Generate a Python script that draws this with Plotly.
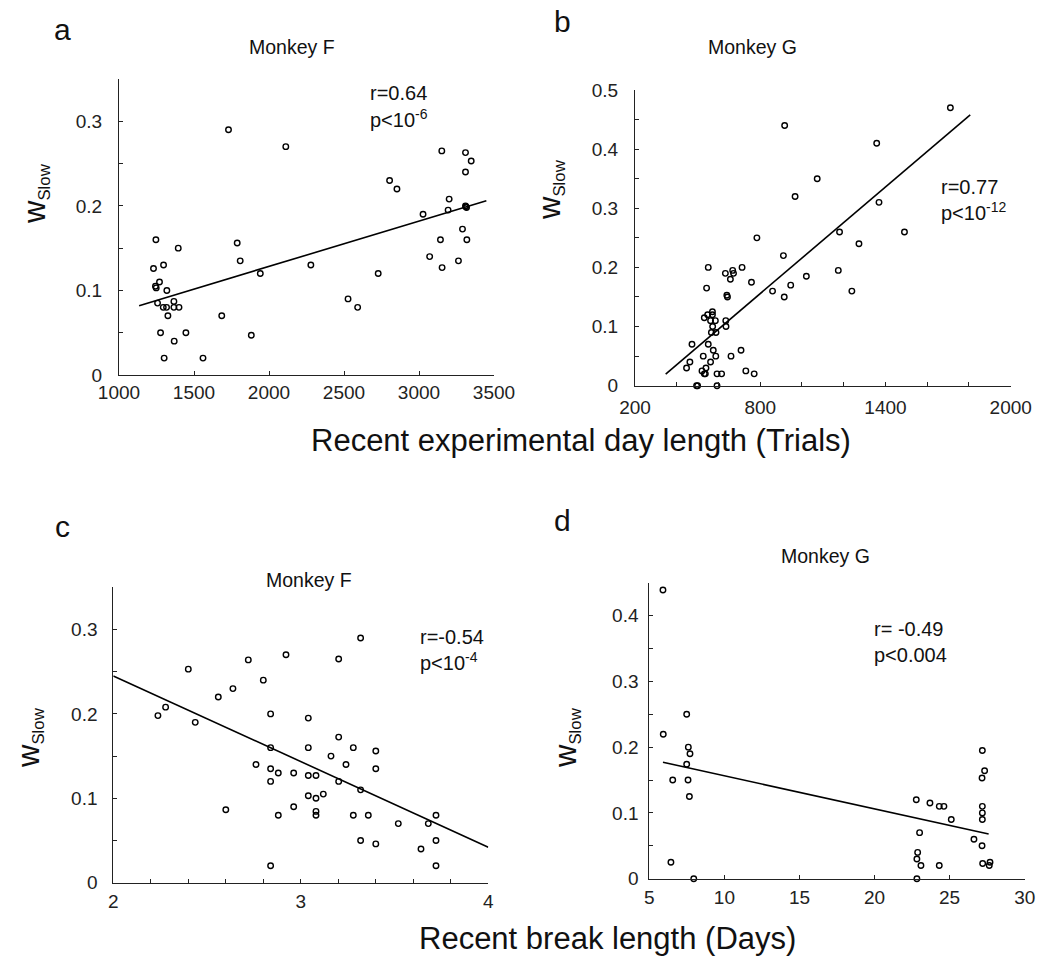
import plotly.graph_objects as go

W, H = 1039, 956
FONT = "Liberation Sans, Arial, Helvetica, sans-serif"

# ---------------- data ----------------
# Panel a: Monkey F, recent experimental day length (trials) vs w_slow
a_x = [1730, 2112, 3152, 3310, 3348, 3310, 2804, 2853, 3201, 3310, 3312, 3317, 3194, 3027,
       3290, 3143, 3319, 3071, 3154, 3263, 2728, 2527, 2591, 2279, 1942, 1788, 1808, 1685,
       1882, 1560, 1246, 1230, 1297, 1395, 1270, 1243, 1248, 1319, 1257, 1366, 1295, 1317,
       1366, 1400, 1326, 1277, 1446, 1368, 1301]
a_y = [0.29, 0.27, 0.265, 0.263, 0.253, 0.24, 0.23, 0.22, 0.208, 0.2, 0.199, 0.198, 0.195, 0.19,
       0.1725, 0.16, 0.16, 0.14, 0.127, 0.135, 0.12, 0.09, 0.08, 0.13, 0.12, 0.156, 0.135, 0.07,
       0.047, 0.02, 0.16, 0.126, 0.13, 0.15, 0.11, 0.105, 0.103, 0.1, 0.085, 0.087, 0.08, 0.08,
       0.08, 0.08, 0.07, 0.05, 0.05, 0.04, 0.02]
a_fit_x = [1134, 3449]
a_fit_y = [0.082, 0.206]

# Panel b: Monkey G, recent experimental day length (trials) vs w_slow
b_x = [1711, 917, 1358, 1073, 967, 1369, 1180, 1491, 784, 1273, 911, 551, 668, 633, 672, 713,
       657, 758, 543, 1174, 1021, 946, 859, 1239, 915, 640, 643, 571, 548, 571, 532, 562, 585,
       635, 572, 636, 566, 588, 473, 551, 575, 708, 527, 587, 660, 463, 562, 447, 540, 521, 532,
       537, 731, 593, 615, 771, 495, 500, 593]
b_y = [0.47, 0.44, 0.41, 0.35, 0.32, 0.31, 0.26, 0.26, 0.25, 0.24, 0.22, 0.2, 0.195, 0.19, 0.19,
       0.2, 0.18, 0.175, 0.165, 0.195, 0.185, 0.17, 0.16, 0.16, 0.15, 0.153, 0.15, 0.125, 0.12,
       0.12, 0.115, 0.11, 0.11, 0.11, 0.1, 0.1, 0.09, 0.09, 0.07, 0.07, 0.06, 0.06, 0.05, 0.05,
       0.05, 0.04, 0.04, 0.03, 0.03, 0.025, 0.02, 0.02, 0.025, 0.02, 0.02, 0.02, 0.0, 0.0, 0.0]
b_fit_x = [347, 1806]
b_fit_y = [0.0197, 0.458]

# Panel c: Monkey F, recent break length (days) vs w_slow
c_x = [3.319, 2.921, 3.202, 2.72, 2.4, 2.8, 2.638, 2.56, 2.279, 2.238, 2.437, 2.839, 3.04, 3.202,
       2.839, 3.04, 3.28, 3.40, 3.161, 2.761, 3.241, 2.839, 3.40, 2.88, 2.962, 3.04, 3.081, 2.839,
       3.202, 3.319, 3.12, 3.04, 3.081, 2.6, 2.962, 3.081, 3.081, 2.88, 3.28, 3.36, 3.721, 3.52,
       3.68, 3.319, 3.40, 3.721, 3.641, 2.839, 3.721]
c_y = [0.29, 0.27, 0.265, 0.264, 0.253, 0.24, 0.23, 0.22, 0.208, 0.198, 0.19, 0.2, 0.195, 0.1725,
       0.16, 0.16, 0.16, 0.156, 0.15, 0.14, 0.14, 0.135, 0.135, 0.13, 0.13, 0.127, 0.127, 0.12,
       0.12, 0.11, 0.105, 0.103, 0.1, 0.0865, 0.09, 0.0845, 0.08, 0.08, 0.08, 0.08, 0.08, 0.07,
       0.07, 0.05, 0.046, 0.05, 0.04, 0.02, 0.02]
c_fit_x = [2.0, 4.0]
c_fit_y = [0.245, 0.042]

# Panel d: Monkey G, recent break length (days) vs w_slow
d_x = [5.91, 5.93, 6.56, 6.44, 7.49, 7.6, 7.71, 7.49, 7.58, 7.67, 7.96, 22.78, 23.69, 24.31,
       24.62, 25.11, 23.0, 22.87, 22.82, 23.09, 22.82, 24.31, 26.62, 27.18, 27.33, 27.16, 27.18,
       27.18, 27.18, 27.16, 27.2, 27.69, 27.64]
d_y = [0.439, 0.2195, 0.15, 0.025, 0.25, 0.2, 0.19, 0.174, 0.15, 0.125, 0.0, 0.12, 0.115, 0.11,
       0.11, 0.09, 0.07, 0.04, 0.03, 0.02, 0.0, 0.02, 0.06, 0.195, 0.164, 0.153, 0.11, 0.1, 0.09,
       0.05, 0.023, 0.025, 0.02]
d_fit_x = [5.91, 27.6]
d_fit_y = [0.177, 0.068]

# ticks
a_xticks = [1000, 1500, 2000, 2500, 3000, 3500]
a_xlabels = ["1000", "1500", "2000", "2500", "3000", "3500"]
b_xticks = [200, 400, 600, 800, 1000, 1200, 1400, 1600, 1800, 2000]
b_xlabels = ["200", "", "", "800", "", "", "1400", "", "", "2000"]
c_xticks = [2.0, 2.2, 2.4, 2.6, 2.8, 3.0, 3.2, 3.4, 3.6, 3.8, 4.0]
c_xlabels = ["2", "", "", "", "", "3", "", "", "", "", "4"]
d_xticks = [5, 10, 15, 20, 25, 30]
d_xlabels = ["5", "10", "15", "20", "25", "30"]
y035_ticks = [0, 0.05, 0.1, 0.15, 0.2, 0.25, 0.3, 0.35]
y035_labels = ["0", "", "0.1", "", "0.2", "", "0.3", ""]
y05_ticks = [0, 0.05, 0.1, 0.15, 0.2, 0.25, 0.3, 0.35, 0.4, 0.45, 0.5]
y05_labels = ["0", "", "0.1", "", "0.2", "", "0.3", "", "0.4", "", "0.5"]
y045_ticks = [0, 0.05, 0.1, 0.15, 0.2, 0.25, 0.3, 0.35, 0.4, 0.45]
y045_labels = ["0", "", "0.1", "", "0.2", "", "0.3", "", "0.4", ""]

# ---------------- figure ----------------
def px(x):
    return x / W

def py(y):
    return 1 - y / H

fig = go.Figure()

panels = [
    ("", a_x, a_y, a_fit_x, a_fit_y, (119, 494), (375, 79), [1000, 3500], [0, 0.35],
     a_xticks, a_xlabels, y035_ticks, y035_labels, 0, 12),
    ("2", b_x, b_y, b_fit_x, b_fit_y, (635, 1010.7), (385.7, 90), [200, 2000], [0, 0.5],
     b_xticks, b_xlabels, y05_ticks, y05_labels, 4, 12),
    ("3", c_x, c_y, c_fit_x, c_fit_y, (113.3, 488.3), (882.7, 587.3), [2, 4], [0, 0.35],
     c_xticks, c_xlabels, y035_ticks, y035_labels, 1, 11),
    ("4", d_x, d_y, d_fit_x, d_fit_y, (649.3, 1024.7), (878.7, 582.7), [5, 30], [0, 0.45],
     d_xticks, d_xlabels, y045_ticks, y045_labels, 1, 6),
]

axcolor = "#222222"
for (n, xs, ys, fx, fy, xd, yd, xr, yr, xt, xl, yt, yl, xs_off, ys_off) in panels:
    xa = "x" + n
    ya = "y" + n
    fig.add_trace(go.Scatter(x=fx, y=fy, mode="lines", xaxis=xa, yaxis=ya,
                             line=dict(color="black", width=1.6), showlegend=False,
                             hoverinfo="skip"))
    fig.add_trace(go.Scatter(x=xs, y=ys, mode="markers", xaxis=xa, yaxis=ya,
                             marker=dict(symbol="circle-open", size=5.5,
                                         color="black", line=dict(width=1.4, color="black")),
                             cliponaxis=False, showlegend=False))
    common = dict(showline=True, linecolor=axcolor, linewidth=1, ticks="inside", ticklen=4,
                  tickwidth=1, tickcolor=axcolor, showgrid=False, zeroline=False,
                  automargin=False,
                  tickfont=dict(family=FONT, size=19, color="#222222"))
    fig.layout["xaxis" + n] = dict(domain=[px(xd[0]), px(xd[1])], range=xr, anchor=ya,
                                   tickmode="array", tickvals=xt, ticktext=xl,
                                   ticklabelstandoff=xs_off, **common)
    fig.layout["yaxis" + n] = dict(domain=[py(yd[0]), py(yd[1])], range=yr, anchor=xa,
                                   tickmode="array", tickvals=yt, ticktext=yl,
                                   ticklabelstandoff=ys_off, **common)

ann = []

def text(x, y, s, size, xanchor="center", angle=0):
    ann.append(dict(x=px(x), y=py(y), xref="paper", yref="paper", text=s, showarrow=False,
                    xanchor=xanchor, yanchor="middle", textangle=angle,
                    font=dict(family=FONT, size=size, color="#111111")))

# panel letters
text(62, 29, "a", 30)
text(562, 22, "b", 30)
text(62, 526, "c", 30)
text(562, 520, "d", 30)

# panel titles
text(292, 47, "Monkey F", 19.5)
text(752, 47, "Monkey G", 19.5)
text(309, 580, "Monkey F", 19.5)
text(825, 556, "Monkey G", 19.5)

# statistics
text(368, 93, "r=0.64", 20, "left")
text(368, 118, "p<10<sup>-6</sup>", 20, "left")
text(939, 187, "r=0.77", 20, "left")
text(939, 212, "p<10<sup>-12</sup>", 20, "left")
text(418, 637, "r=-0.54", 20, "left")
text(418, 661, "p<10<sup>-4</sup>", 20, "left")
text(872, 629, "r= -0.49", 20, "left")
text(872, 655, "p<0.004", 20, "left")

# y-axis titles
wlabel = "<span style='font-size:31px'>w</span><sub>Slow</sub>"
text(35, 194, wlabel, 24, angle=-90)
text(550, 190, wlabel, 24, angle=-90)
text(29, 738, wlabel, 24, angle=-90)
text(566, 738, wlabel, 24, angle=-90)

# x-axis titles
text(581, 441, "Recent experimental day length (Trials)", 31)
text(607, 938, "Recent break length (Days)", 31)

fig.update_layout(width=W, height=H,
                  margin=dict(l=0, r=0, t=0, b=0, pad=0, autoexpand=False),
                  paper_bgcolor="white", plot_bgcolor="white", annotations=ann,
                  font=dict(family=FONT))

fig.write_html("out.html", config={"displayModeBar": False},
               post_script="document.body.style.margin='0';document.body.style.overflow='hidden';")
